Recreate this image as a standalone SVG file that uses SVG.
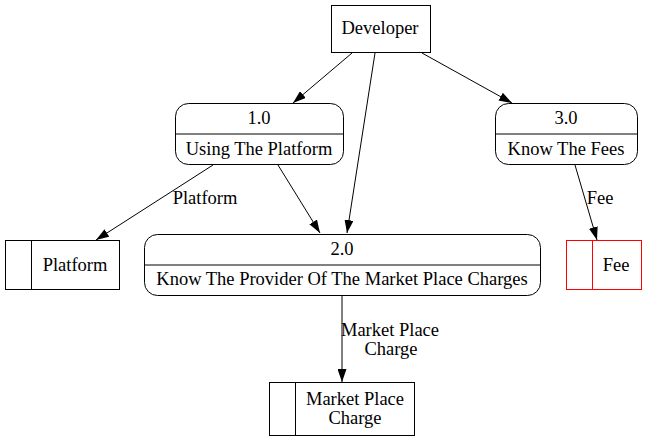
<svg xmlns="http://www.w3.org/2000/svg" width="647" height="441" viewBox="0 0 647 441">
<style>
text{font-size:18.5px;text-anchor:middle;fill:#000}
.n{fill:#fff;stroke:#000;stroke-width:1}
.r{fill:#fff;stroke:#f00;stroke-width:1}
.e{stroke:#000;stroke-width:1;fill:none;marker-end:url(#ah)}
</style>
<defs>
<marker id="ah" viewBox="0 0 13 9" refX="13" refY="4.5" markerWidth="13" markerHeight="9" markerUnits="userSpaceOnUse" orient="auto">
<path d="M0,0 L13,4.5 L0,9 z" fill="#000"/>
</marker>
</defs>
<rect width="647" height="441" fill="#fff"/>
<g font-family="Liberation Serif, serif">
<g id="edges">
<line class="e" x1="352" y1="53" x2="293" y2="103"/>
<line class="e" x1="375" y1="53" x2="347" y2="233"/>
<line class="e" x1="422" y1="53" x2="512" y2="103"/>
<line class="e" x1="213" y1="165" x2="96" y2="240"/>
<text x="205" y="204">Platform</text>
<line class="e" x1="278" y1="165" x2="320" y2="233"/>
<line class="e" x1="575" y1="165" x2="597" y2="240"/>
<text x="600" y="204">Fee</text>
<line class="e" x1="342" y1="296" x2="342" y2="382"/>
<text x="390" y="336">Market Place</text>
<text x="391" y="355">Charge</text>
</g>
<g id="developer">
<rect class="n" x="331.5" y="5.5" width="99" height="47"/>
<text x="380" y="34">Developer</text>
</g>
<g id="p1">
<rect class="n" x="175.5" y="103.5" width="168" height="61" rx="13"/>
<line x1="175.5" y1="134" x2="343.5" y2="134" stroke="#000"/>
<text x="259" y="124">1.0</text>
<text x="259" y="155">Using The Platform</text>
</g>
<g id="p3">
<rect class="n" x="495.5" y="103.5" width="142" height="61" rx="13"/>
<line x1="495.5" y1="134" x2="637.5" y2="134" stroke="#000"/>
<text x="566" y="124">3.0</text>
<text x="566" y="155">Know The Fees</text>
</g>
<g id="p2">
<rect class="n" x="144.5" y="234.5" width="396" height="61" rx="13"/>
<line x1="144.5" y1="265" x2="540.5" y2="265" stroke="#000"/>
<text x="342" y="255">2.0</text>
<text x="342" y="285">Know The Provider Of The Market Place Charges</text>
</g>
<g id="platform">
<rect class="n" x="5.5" y="240.5" width="114" height="49"/>
<line x1="31.5" y1="240.5" x2="31.5" y2="289.5" stroke="#000"/>
<text x="75" y="271">Platform</text>
</g>
<g id="fee">
<rect class="r" x="566.5" y="240.5" width="75" height="49"/>
<line x1="592.5" y1="240.5" x2="592.5" y2="289.5" stroke="#f00"/>
<text x="616" y="271">Fee</text>
</g>
<g id="mpc">
<rect class="n" x="269.5" y="382.5" width="145" height="53"/>
<line x1="295.5" y1="382.5" x2="295.5" y2="435.5" stroke="#000"/>
<text x="355" y="405">Market Place</text>
<text x="355" y="424">Charge</text>
</g>
</g>
</svg>
